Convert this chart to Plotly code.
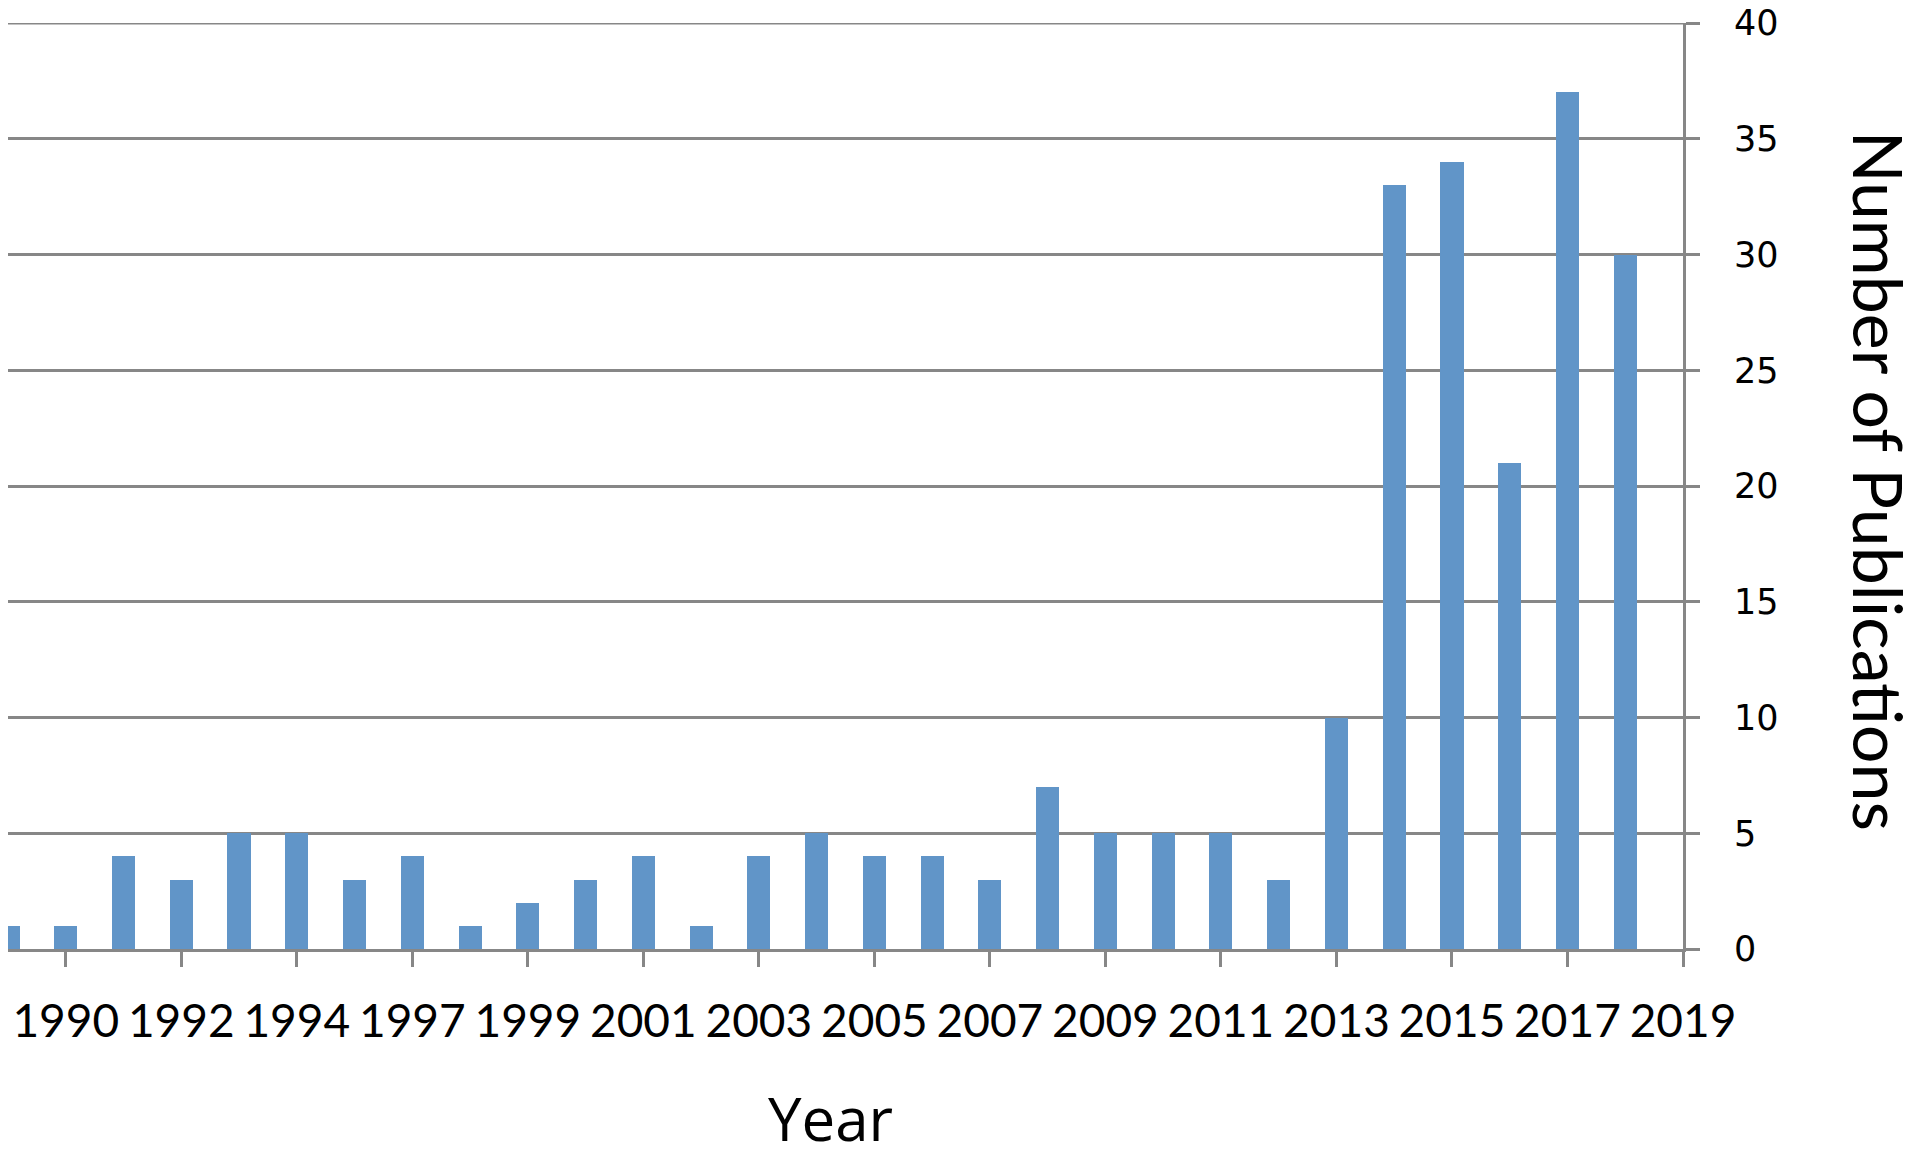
import plotly.graph_objects as go

years = ["1989", "1990", "1991", "1992", "1993", "1994", "1996", "1997", "1998",
         "1999", "2000", "2001", "2002", "2003", "2004", "2005", "2006", "2007",
         "2008", "2009", "2010", "2011", "2012", "2013", "2014", "2015", "2016",
         "2017", "2018"]
publications = [1, 1, 4, 3, 5, 5, 3, 4, 1, 2, 3, 4, 1, 4, 5, 4, 4, 3, 7, 5, 5, 5,
                3, 10, 33, 34, 21, 37, 30]
axis_years = years + ["2019"]
tick_years = ["1990", "1992", "1994", "1997", "1999", "2001", "2003", "2005",
              "2007", "2009", "2011", "2013", "2015", "2017", "2019"]
y_ticks = [0, 5, 10, 15, 20, 25, 30, 35, 40]

grey = "#878787"

fig = go.Figure(
    go.Bar(
        x=years,
        y=publications,
        width=0.4,
        marker=dict(color="#6195c8", line=dict(width=0)),
    )
)

# the page body adds an 8px offset, margins are set to make up for it
fig.update_layout(
    width=1920,
    height=1158,
    margin=dict(l=0, r=245, t=15, b=217),
    template="plotly_white",
    plot_bgcolor="white",
    paper_bgcolor="white",
    showlegend=False,
    bargap=0,
)

fig.update_xaxes(
    type="category",
    categoryorder="array",
    categoryarray=axis_years,
    range=[0, 29],
    tickmode="array",
    tickvals=tick_years,
    ticktext=tick_years,
    ticks="outside",
    ticklen=15,
    tickwidth=3,
    tickcolor=grey,
    ticklabelstandoff=15,
    ticklabeloverflow="allow",
    showline=True,
    linecolor=grey,
    linewidth=3,
    showgrid=False,
    zeroline=False,
    automargin=False,
    tickfont=dict(family="Lato", size=46, color="black"),
)

fig.update_yaxes(
    side="right",
    range=[0, 40],
    tickmode="array",
    tickvals=y_ticks,
    ticks="outside",
    ticklen=14,
    tickwidth=3,
    tickcolor=grey,
    ticklabelstandoff=27,
    ticklabeloverflow="allow",
    showline=True,
    linecolor=grey,
    linewidth=3,
    showgrid=True,
    gridcolor=grey,
    gridwidth=3,
    zeroline=False,
    automargin=False,
    tickfont=dict(family="DejaVu Sans", size=35, color="black"),
)

# the top gridline sits on the range edge, so draw it as an axis-aligned shape
fig.add_hline(y=y_ticks[-1], line=dict(color=grey, width=3))

fig.add_annotation(
    text="Year", xref="paper", yref="paper", x=0.4913, y=-0.182,
    xanchor="center", yanchor="middle", showarrow=False,
    font=dict(family="Open Sans", size=60, color="black"),
)
fig.add_annotation(
    text="Number of Publications", xref="paper", yref="paper", x=1.1175, y=0.506,
    xanchor="center", yanchor="middle", showarrow=False, textangle=90,
    font=dict(family="Lato", size=68, color="black"),
)

fig.write_html("out.html")
